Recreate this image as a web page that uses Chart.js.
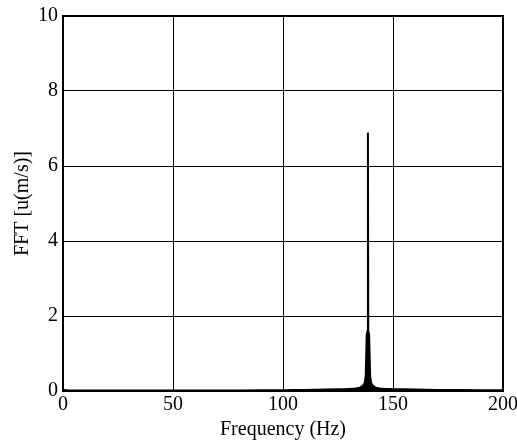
<!DOCTYPE html>
<html>
<head>
<meta charset="utf-8">
<script src="https://cdn.jsdelivr.net/npm/chart.js@4/dist/chart.umd.min.js"></script>
<style>
  html, body { margin: 0; padding: 0; background: #fff; }
  #wrap { width: 517px; height: 442px; }
</style>
</head>
<body>
<div id="wrap"><canvas id="fft"></canvas></div>
<script>
// FFT spectrum samples (Hz, amplitude)
const freqs = [0, 2, 5, 10, 20, 30, 40, 50, 60, 70, 80, 90, 100, 105, 110, 115, 120, 125, 128, 130, 133, 135, 136.3, 137.2, 137.6, 138.05, 138.45, 138.6, 138.75, 139.15, 139.6, 140.0, 140.9, 142, 144, 146, 148, 150, 155, 160, 165, 170, 180, 190, 200];
const amps  = [0.03, 0.02, 0.015, 0.012, 0.012, 0.012, 0.012, 0.012, 0.013, 0.014, 0.015, 0.017, 0.02, 0.025, 0.03, 0.035, 0.04, 0.045, 0.05, 0.055, 0.065, 0.09, 0.14, 0.22, 0.4, 1.5, 1.6, 6.89, 1.6, 1.5, 0.4, 0.22, 0.14, 0.09, 0.07, 0.06, 0.055, 0.05, 0.045, 0.04, 0.035, 0.03, 0.025, 0.02, 0.02];
const xTicks = [0, 50, 100, 150, 200];
const yTicks = [0, 2, 4, 6, 8, 10];

const serif = "'Liberation Serif', 'DejaVu Serif', serif";

// outline the plot frame on top of the grid
const frame = {
  id: 'frame',
  afterDraw(chart) {
    const { ctx, chartArea: a } = chart;
    ctx.save();
    ctx.strokeStyle = '#000';
    ctx.lineWidth = 2;
    ctx.strokeRect(a.left, a.top, a.right - a.left, a.bottom - a.top);
    ctx.restore();
  }
};

new Chart(document.getElementById('fft'), {
  type: 'line',
  data: {
    datasets: [{
      data: freqs.map((f, i) => ({ x: f, y: amps[i] })),
      borderColor: '#000',
      backgroundColor: '#000',
      borderWidth: 2,
      pointRadius: 0,
      tension: 0,
      fill: 'origin'
    }]
  },
  options: {
    responsive: true,
    maintainAspectRatio: false,
    animation: false,
    layout: { padding: { top: 16, right: 14, left: 0, bottom: 0 } },
    plugins: { legend: { display: false }, tooltip: { enabled: false } },
    scales: {
      x: {
        type: 'linear',
        min: 0, max: 200,
        afterBuildTicks: s => { s.ticks = xTicks.map(v => ({ value: v })); },
        afterFit: s => { s.height = 51; s.paddingRight = 0; s.paddingLeft = 0; },
        grid: { color: '#000', lineWidth: 1, drawTicks: false },
        border: { display: false },
        ticks: { color: '#000', font: { family: serif, size: 20 }, padding: 2, maxRotation: 0 },
        title: { display: true, text: 'Frequency (Hz)', color: '#000', font: { family: serif, size: 20 }, padding: { top: 0, bottom: 0 } }
      },
      y: {
        min: 0, max: 10,
        afterBuildTicks: s => { s.ticks = yTicks.map(v => ({ value: v })); },
        afterFit: s => { s.width = 63; s.paddingTop = 0; s.paddingBottom = 0; },
        grid: { color: '#000', lineWidth: 1, drawTicks: false },
        border: { display: false },
        ticks: { color: '#000', font: { family: serif, size: 20 }, padding: 5 },
        title: { display: true, text: 'FFT [u(m/s)]', color: '#000', font: { family: serif, size: 20 }, padding: { top: 11, bottom: 0 } }
      }
    }
  },
  plugins: [frame]
});
</script>
</body>
</html>
